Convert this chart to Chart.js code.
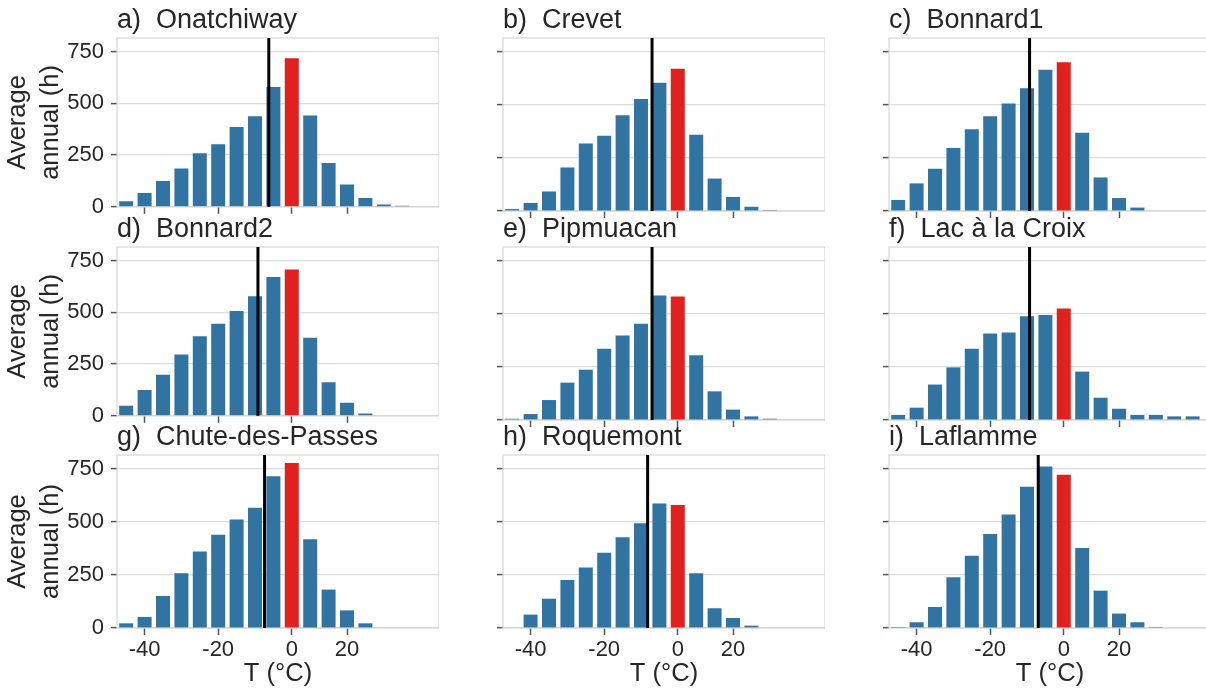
<!DOCTYPE html>
<html>
<head>
<meta charset="utf-8">
<script src="https://cdn.jsdelivr.net/npm/chart.js@4"></script>
<style>
  html, body { margin: 0; padding: 0; background: #fff; }
  #grid { position: relative; width: 1206px; height: 692px; overflow: hidden; }
  #grid canvas { position: absolute; }
</style>
</head>
<body>
<div id="grid"></div>
<script>
// temperature bins (°C), one bar per bin
const bins = [-45, -40, -35, -30, -25, -20, -15, -10, -5, 0, 5, 10, 15, 20, 25, 30, 35];
const tickPositions = [1, 5, 9, 12];
const tickLabels = ['-40', '-20', '0', '20'];
const yTicks = [0, 250, 500, 750];

const stations = [
  'a)  Onatchiway', 'b)  Crevet', 'c)  Bonnard1',
  'd)  Bonnard2', 'e)  Pipmuacan', 'f)  Lac à la Croix',
  'g)  Chute-des-Passes', 'h)  Roquemont', 'i)  Laflamme'
];

// average annual hours per bin
const hOnatchiway = [27, 67, 124, 185, 258, 302, 385, 437, 579, 717, 441, 211, 108, 42, 11, 5, 0];
const hCrevet = [9, 38, 92, 205, 318, 354, 451, 528, 604, 670, 359, 153, 66, 20, 5, 0, 0];
const hBonnard1 = [52, 130, 199, 297, 385, 446, 506, 578, 665, 701, 369, 158, 61, 16, 0, 0, 0];
const hBonnard2 = [49, 124, 198, 296, 384, 445, 506, 577, 670, 706, 377, 162, 63, 11, 0, 0, 0];
const hPipmuacan = [6, 28, 94, 176, 237, 336, 398, 453, 586, 582, 305, 135, 49, 17, 6, 0, 0];
const hLacCroix = [24, 58, 167, 248, 336, 407, 412, 489, 495, 525, 228, 105, 53, 24, 24, 17, 17];
const hChutePasses = [22, 52, 151, 258, 360, 439, 511, 566, 715, 777, 418, 181, 83, 22, 0, 0, 0];
const hRoquemont = [0, 63, 138, 226, 285, 355, 428, 494, 586, 580, 258, 93, 47, 11, 0, 0, 0];
const hLaflamme = [5, 27, 99, 239, 340, 443, 535, 666, 761, 722, 377, 176, 68, 27, 5, 0, 0];

// mean temperature marker, in bin-index units
const meanPos = [7.75, 7.6, 7.14, 7.16, 7.6, 7.14, 7.52, 7.36, 7.61];

const hoursByStation = [hOnatchiway, hCrevet, hBonnard1, hBonnard2, hPipmuacan,
  hLacCroix, hChutePasses, hRoquemont, hLaflamme];

const BLUE = '#3274a1';
const RED = '#e0211f';
const TEXT = '#262626';
const zeroIdx = bins.indexOf(0);

Chart.defaults.font.family = "'Liberation Sans', Arial, sans-serif";
Chart.defaults.color = TEXT;

// light box around each panel
const panelFrame = {
  id: 'panelFrame',
  beforeDatasetsDraw(chart) {
    const { ctx, chartArea: a } = chart;
    ctx.save();
    ctx.strokeStyle = '#d6d6d6';
    ctx.lineWidth = 1.2;
    ctx.strokeRect(a.left, a.top, a.width, a.height);
    ctx.restore();
  }
};

// vertical black line at the mean temperature
const meanLine = {
  id: 'meanLine',
  afterDatasetsDraw(chart, args, opts) {
    const { ctx, chartArea: a } = chart;
    const x = chart.scales.x.getPixelForValue(opts.value);
    ctx.save();
    ctx.strokeStyle = '#000';
    ctx.lineWidth = 3;
    ctx.beginPath();
    ctx.moveTo(x, a.bottom);
    ctx.lineTo(x, a.top);
    ctx.stroke();
    ctx.restore();
  }
};

const grid = document.getElementById('grid');
const colLeft = [117, 503, 889];
const rowTop = [38, 247, 455];
const plotW = 322, plotH = 173, axisW = 117, titleH = 38;

stations.forEach((name, k) => {
  const col = k % 3, row = Math.floor(k / 3);
  const bottomRow = row === 2;
  const xAxisH = bottomRow ? 64 : 16;

  const canvas = document.createElement('canvas');
  canvas.width = axisW + plotW;
  canvas.height = titleH + plotH + xAxisH;
  canvas.style.left = (colLeft[col] - axisW) + 'px';
  canvas.style.top = (rowTop[row] - titleH) + 'px';
  grid.appendChild(canvas);

  const hours = hoursByStation[k];

  new Chart(canvas, {
    type: 'bar',
    data: {
      datasets: [{
        data: hours.map((v, i) => ({ x: i, y: v })),
        backgroundColor: bins.map((b, i) => i === zeroIdx ? RED : BLUE),
        categoryPercentage: 1,
        barPercentage: 0.76,
        borderWidth: 0
      }]
    },
    options: {
      responsive: false,
      animation: false,
      layout: { padding: 0 },
      plugins: {
        legend: { display: false },
        tooltip: { enabled: false },
        title: {
          display: true,
          text: name,
          align: 'start',
          fullSize: false,
          color: TEXT,
          font: { size: 27, weight: 'normal' },
          padding: { top: 4.7, bottom: 0.9 }
        },
        meanLine: { value: meanPos[k] }
      },
      scales: {
        x: {
          type: 'linear',
          min: -0.5,
          max: 17,
          offset: false,
          afterBuildTicks: (scale) => {
            scale.ticks = tickPositions.map(v => ({ value: v }));
          },
          afterFit: (scale) => { scale.height = xAxisH; },
          ticks: {
            display: bottomRow,
            autoSkip: false,
            maxRotation: 0,
            padding: 2,
            font: { size: 22 },
            color: TEXT,
            callback: (value) => tickLabels[tickPositions.indexOf(value)]
          },
          grid: {
            offset: false,
            drawOnChartArea: false,
            drawTicks: true,
            tickLength: 7,
            tickColor: '#555',
            tickWidth: 1.5
          },
          border: { display: false },
          title: {
            display: bottomRow,
            text: 'T (°C)',
            color: TEXT,
            font: { size: 25.5 },
            padding: { top: 0, bottom: 3 }
          }
        },
        y: {
          min: 0,
          max: 815,
          afterBuildTicks: (scale) => {
            scale.ticks = yTicks.map(v => ({ value: v }));
          },
          afterFit: (scale) => { scale.width = axisW; },
          ticks: {
            display: col === 0,
            padding: 7,
            font: { size: 22 },
            color: TEXT
          },
          grid: {
            color: '#dddddd',
            lineWidth: 1.2,
            tickLength: 6,
            tickColor: '#555',
            tickWidth: 1.5
          },
          border: { display: false },
          title: {
            display: col === 0,
            text: ['Average', 'annual (h)'],
            color: TEXT,
            font: { size: 25.5, lineHeight: 1.3 },
            padding: { top: 1.5, bottom: 0 }
          }
        }
      }
    },
    plugins: [panelFrame, meanLine]
  });
});
</script>
</body>
</html>
